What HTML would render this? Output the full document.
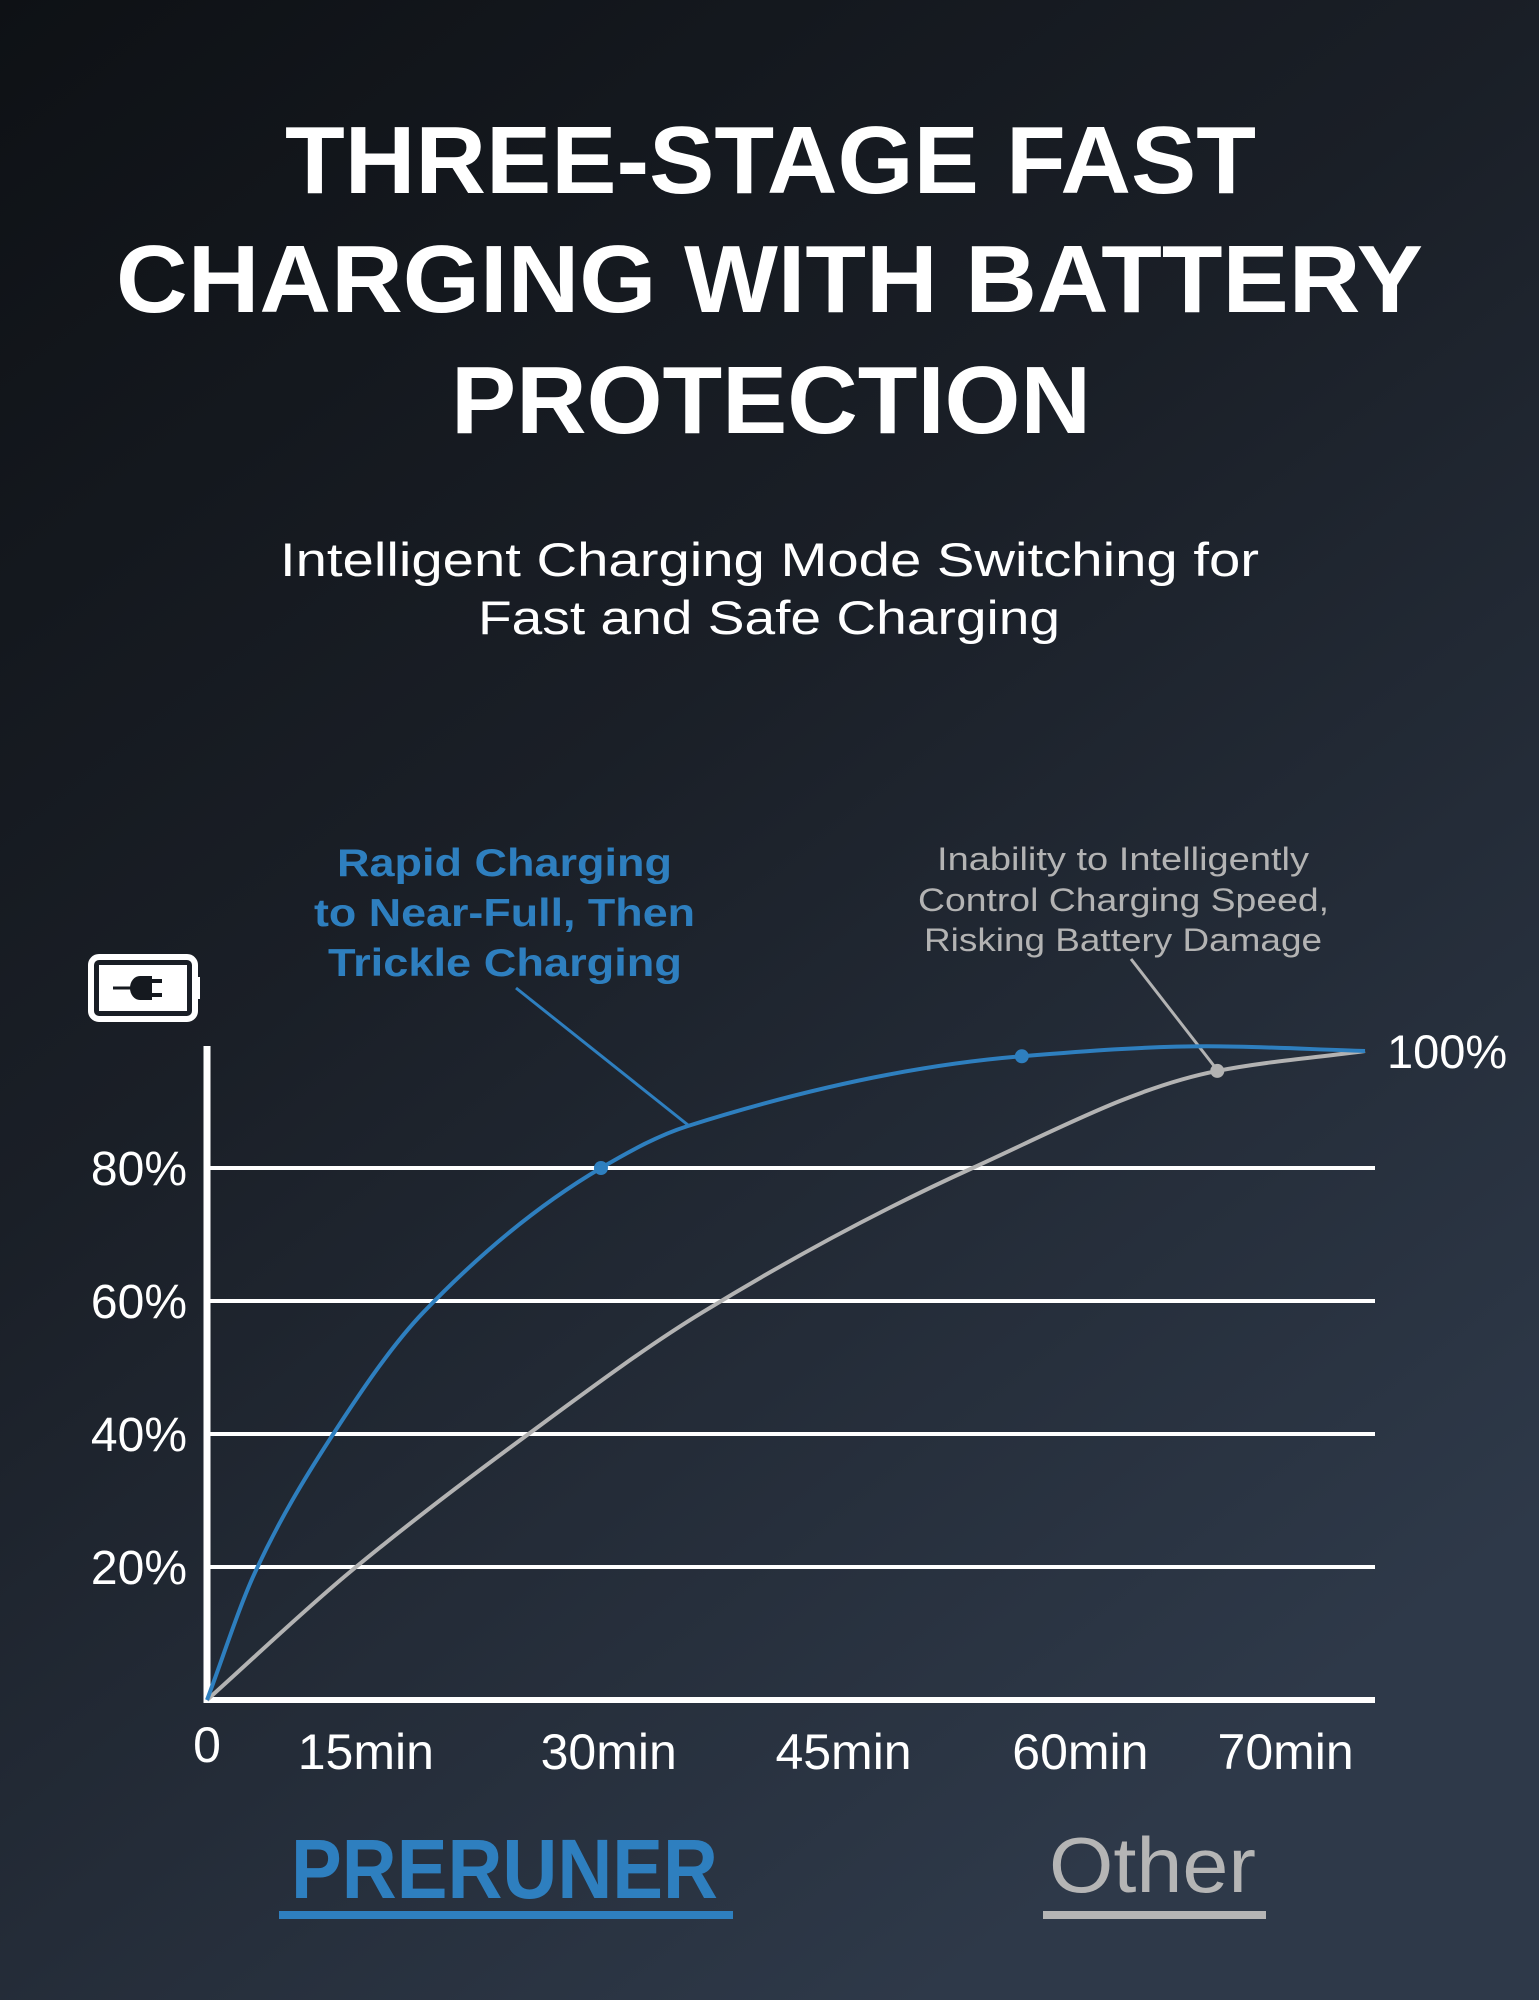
<!DOCTYPE html>
<html><head><meta charset="utf-8"><style>
html,body{margin:0;padding:0;width:1539px;height:2000px;overflow:hidden;background:#15191f}
svg{display:block}
text{font-family:"Liberation Sans",sans-serif}
</style></head><body>
<svg id="chart" width="1539" height="2000" viewBox="0 0 1539 2000" xmlns="http://www.w3.org/2000/svg">
<defs>
<linearGradient id="bg" x1="0" y1="0" x2="0.6" y2="1">
<stop offset="0" stop-color="#0e1115"/><stop offset="0.45" stop-color="#1a1f27"/><stop offset="1" stop-color="#2e3949"/>
</linearGradient>
</defs>
<rect width="1539" height="2000" fill="url(#bg)"/>
<g fill="#fff" font-weight="bold" font-size="96" text-anchor="start">
<text x="285" y="193" textLength="971" lengthAdjust="spacingAndGlyphs">THREE-STAGE FAST</text>
<text x="116" y="312" textLength="1307" lengthAdjust="spacingAndGlyphs">CHARGING WITH BATTERY</text>
<text x="451" y="433" textLength="640" lengthAdjust="spacingAndGlyphs">PROTECTION</text>
</g>
<g fill="#fff" font-size="47">
<text x="280" y="576" textLength="979" lengthAdjust="spacingAndGlyphs">Intelligent Charging Mode Switching for</text>
<text x="478" y="634" textLength="582" lengthAdjust="spacingAndGlyphs">Fast and Safe Charging</text>
</g>
<g fill="#2e7fbf" font-weight="bold" font-size="39">
<text x="337" y="876" textLength="335" lengthAdjust="spacingAndGlyphs">Rapid Charging</text>
<text x="314" y="926" textLength="381" lengthAdjust="spacingAndGlyphs">to Near-Full, Then</text>
<text x="328" y="976" textLength="354" lengthAdjust="spacingAndGlyphs">Trickle Charging</text>
</g>
<line x1="516" y1="988" x2="688" y2="1125" stroke="#2e7fbf" stroke-width="3"/>
<g fill="#b3b3b3" font-size="32">
<text x="937" y="870" textLength="372" lengthAdjust="spacingAndGlyphs">Inability to Intelligently</text>
<text x="918" y="911" textLength="411" lengthAdjust="spacingAndGlyphs">Control Charging Speed,</text>
<text x="924" y="951" textLength="398" lengthAdjust="spacingAndGlyphs">Risking Battery Damage</text>
</g>
<line x1="1131" y1="959" x2="1218" y2="1071" stroke="#b3b3b3" stroke-width="3"/>
<g>
<rect x="91" y="957" width="104" height="62" rx="8" fill="none" stroke="#fff" stroke-width="6"/>
<rect x="195" y="977" width="5" height="22" fill="#fff"/>
<rect x="99" y="965" width="88" height="46" fill="#fff"/>
<line x1="113" y1="988" x2="140" y2="988" stroke="#15191f" stroke-width="3"/>
<path d="M140 976 h12 v24 h-12 a10 12 0 0 1 0-24z" fill="#15191f"/>
<rect x="152" y="979" width="10" height="4" fill="#15191f"/>
<rect x="152" y="993" width="10" height="4" fill="#15191f"/>
</g>
<g id="grid"></g>
<g id="ylabels" fill="#fff" font-size="48" text-anchor="end"></g>
<g id="xlabels" fill="#fff" font-size="50" text-anchor="middle"></g>
<g id="series"></g>
<text x="1387" y="1068" fill="#fff" font-size="47">100%</text>
<g>
<text x="291" y="1898" fill="#2e7fbf" font-weight="bold" font-size="84" textLength="427" lengthAdjust="spacingAndGlyphs">PRERUNER</text>
<rect x="279" y="1911" width="454" height="8" fill="#2e7fbf"/>
<text x="1049" y="1892" fill="#b5b5b5" font-size="78" textLength="207" lengthAdjust="spacingAndGlyphs">Other</text>
<rect x="1043" y="1911" width="223" height="8" fill="#b5b5b5"/>
</g>
</svg>
<script>
const yTicks = [20, 40, 60, 80];
const yTickLabels = ["20%", "40%", "60%", "80%"];
const xTicks = [15, 30, 45, 60, 70];
const xTickLabels = ["15min", "30min", "45min", "60min", "70min"];
const xLabelShift = [-65, -46, -35, -22, 34];
const prerunerT = [0, 3.2, 8.2, 14.5, 26.4, 32.2, 54.6, 67.0, 77.6];
const prerunerPct = [0, 19.1, 39.1, 58.3, 80, 86.3, 96.8, 98.3, 97.6];
const otherT = [0, 9.5, 21, 33.2, 51.3, 67.7, 77.6];
const otherPct = [0, 19.1, 39.1, 58.3, 80, 94.6, 97.6];
const prerunerDots = [4, 6];
const otherDots = [5];

const NS = "http://www.w3.org/2000/svg";
const X0 = 207, X1 = 1371, Y0 = 1700, Y1 = 1035, TMAX = 78;
function x(t){ return X0 + (t / TMAX) * (X1 - X0); }
function y(p){ return Y0 - (p / 100) * (Y0 - Y1); }
function mk(tag, attrs, parent){
  const el = document.createElementNS(NS, tag);
  for (const k in attrs) el.setAttribute(k, attrs[k]);
  parent.appendChild(el);
  return el;
}
const grid = document.getElementById('grid');
yTicks.forEach((v) => {
  const l = mk('line', {x1: X0, x2: X1 + 4, y1: y(v), y2: y(v), stroke: '#fff', 'stroke-width': 4}, grid);
  
  
});
const ax = mk('line', {x1: X0, x2: X1 + 4, y1: Y0, y2: Y0, stroke: '#fff', 'stroke-width': 6}, grid);


const ay = mk('line', {x1: X0, x2: X0, y1: 1046, y2: Y0 + 3, stroke: '#fff', 'stroke-width': 7}, grid);



const yl = document.getElementById('ylabels');
yTicks.forEach((v, i) => {
  const t = mk('text', {x: 187, y: y(v) + 17}, yl);
  t.textContent = yTickLabels[i];
  
  
});
const xl = document.getElementById('xlabels');
const z = mk('text', {x: X0, y: 1762}, xl);
z.textContent = '0';


xTicks.forEach((v, i) => {
  const t = mk('text', {x: x(v) + xLabelShift[i], y: 1769}, xl);
  t.textContent = xTickLabels[i];
  
  
});

// monotone cubic interpolation in pixel space
function pathFor(ts, ps){
  const X = ts.map(x), Y = ps.map(y), n = X.length;
  const d = [], m = new Array(n);
  for (let i = 0; i < n - 1; i++) d.push((Y[i+1] - Y[i]) / (X[i+1] - X[i]));
  m[0] = d[0]; m[n-1] = d[n-2];
  for (let i = 1; i < n - 1; i++){
    if (d[i-1] * d[i] <= 0) m[i] = 0;
    else { const h0 = X[i]-X[i-1], h1 = X[i+1]-X[i]; const w1 = 2*h1+h0, w2 = h1+2*h0; m[i] = (w1+w2)/(w1/d[i-1]+w2/d[i]); }
  }
  let s = 'M' + X[0] + ' ' + Y[0];
  for (let i = 0; i < n - 1; i++){
    const h = (X[i+1] - X[i]) / 3;
    s += ' C' + (X[i]+h) + ' ' + (Y[i]+m[i]*h) + ' ' + (X[i+1]-h) + ' ' + (Y[i+1]-m[i+1]*h) + ' ' + X[i+1] + ' ' + Y[i+1];
  }
  return s;
}
const series = document.getElementById('series');
const po = mk('path', {d: pathFor(otherT, otherPct), fill: 'none', stroke: '#b3b3b3', 'stroke-width': 4}, series);


const pp = mk('path', {d: pathFor(prerunerT, prerunerPct), fill: 'none', stroke: '#2e7fbf', 'stroke-width': 4}, series);


prerunerDots.forEach((i) => {
  const c = mk('circle', {cx: x(prerunerT[i]), cy: y(prerunerPct[i]), r: 7, fill: '#2e7fbf'}, series);
  
  
});
otherDots.forEach((i) => {
  const c = mk('circle', {cx: x(otherT[i]), cy: y(otherPct[i]), r: 7, fill: '#b3b3b3'}, series);
  
  
});
</script>
</body></html>
